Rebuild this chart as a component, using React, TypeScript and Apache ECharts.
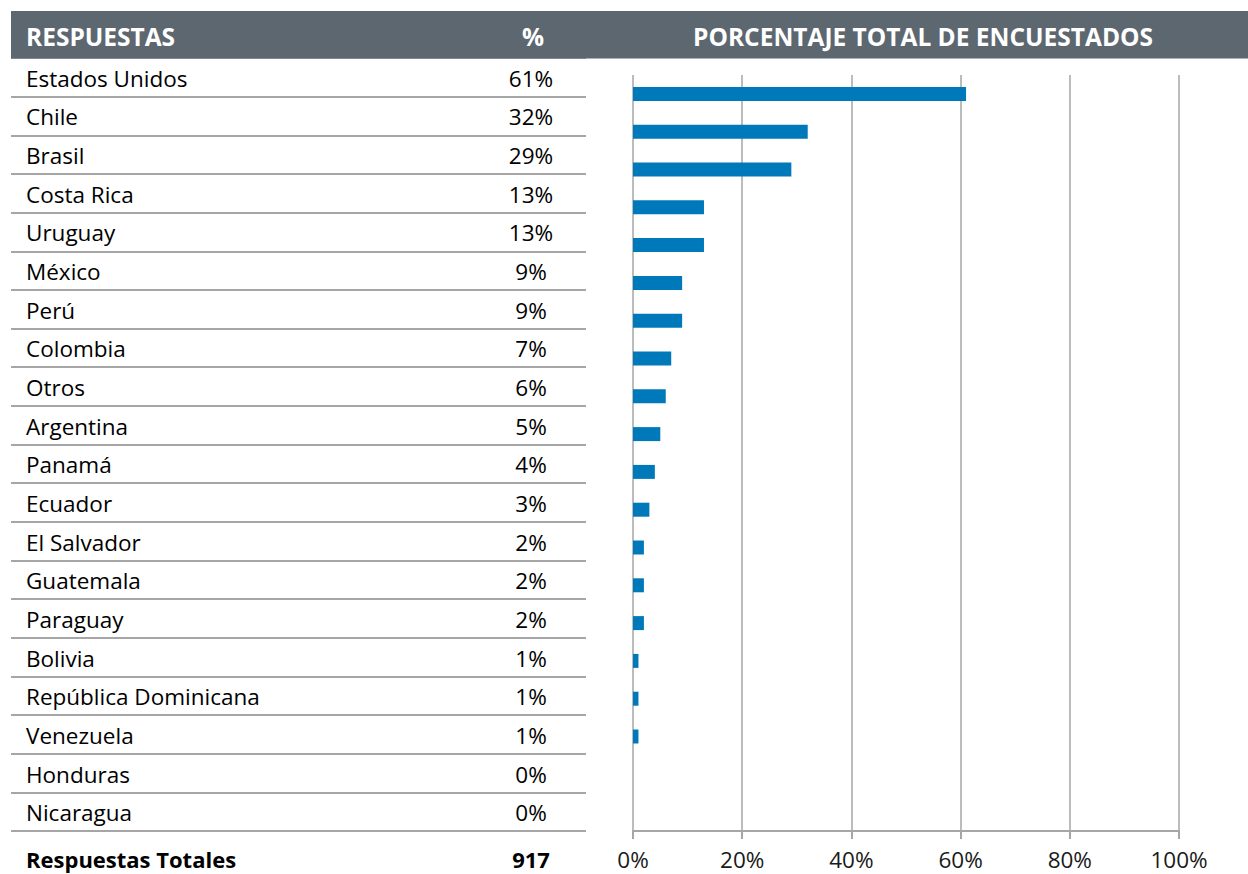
import React, { useEffect, useRef } from "react";
import * as echarts from "echarts";

const countries = [
  "Estados Unidos", "Chile", "Brasil", "Costa Rica", "Uruguay", "México", "Perú",
  "Colombia", "Otros", "Argentina", "Panamá", "Ecuador", "El Salvador", "Guatemala",
  "Paraguay", "Bolivia", "República Dominicana", "Venezuela", "Honduras", "Nicaragua",
];
const percents = [61, 32, 29, 13, 13, 9, 9, 7, 6, 5, 4, 3, 2, 2, 2, 1, 1, 1, 0, 0];
const headerLabels = ["RESPUESTAS", "%", "PORCENTAJE TOTAL DE ENCUESTADOS"];
const totalLabel = "Respuestas Totales";
const totalValue = "917";
const xTicks = [0, 20, 40, 60, 80, 100];

const FONT = "'Open Sans', 'Noto Sans', sans-serif";
const FS = 22.5;

export default function App() {
  const ref = useRef<HTMLDivElement>(null);
  useEffect(() => {
    if (!ref.current) return;
    const chart = echarts.init(ref.current, null, { renderer: "svg" });
    chart.setOption({
      animation: false,
      backgroundColor: "#ffffff",
      textStyle: { fontFamily: FONT },
      grid: [
        { left: 11, width: 575, top: 58, height: 773 },
        { left: 633, width: 546, top: 75, height: 756 },
      ],
      xAxis: [
        { gridIndex: 0, type: "value", min: 0, max: 1, show: false },
        {
          gridIndex: 1,
          type: "value",
          min: xTicks[0],
          max: xTicks[xTicks.length - 1],
          interval: 20,
          axisLine: { show: true, lineStyle: { color: "#a6a6a6", width: 2 } },
          axisTick: { show: true, length: 8, lineStyle: { color: "#a6a6a6", width: 2 } },
          splitLine: { show: true, lineStyle: { color: "#a6a6a6", width: 1.5 } },
          axisLabel: {
            formatter: "{value}%",
            fontSize: FS,
            lineHeight: 24,
            color: "#1a1a1a",
            margin: 16,
            fontFamily: FONT,
          },
        },
      ],
      yAxis: [
        {
          gridIndex: 0,
          type: "category",
          inverse: true,
          data: countries,
          axisLine: { show: false },
          axisTick: { show: false },
          splitLine: { show: true, lineStyle: { color: "#a6a6a6", width: 2 } },
          axisLabel: {
            inside: true,
            margin: 15,
            interval: 0,
            fontFamily: FONT,
            formatter: (v: string, i: number) => `{n|${v}}{p|${percents[i]}%}`,
            rich: {
              n: { width: 472, fontSize: FS, color: "#000", fontFamily: FONT, align: "left", padding: [2, 0, 0, 0] },
              p: { width: 66, fontSize: FS, color: "#000", fontFamily: FONT, align: "center", padding: [2, 0, 0, 0] },
            },
          },
        },
        {
          gridIndex: 1,
          type: "category",
          inverse: true,
          data: countries,
          axisLine: { show: false },
          axisTick: { show: false },
          axisLabel: { show: false },
        },
      ],
      series: [
        {
          type: "bar",
          xAxisIndex: 1,
          yAxisIndex: 1,
          data: percents,
          barWidth: 14,
          itemStyle: { color: "#0079bb" },
          silent: true,
        },
      ],
      graphic: [
        {
          type: "rect",
          shape: { x: 11, y: 11, width: 1237, height: 47.5 },
          style: { fill: "#5d6770" },
          z: 100,
        },
        {
          type: "text",
          x: 26,
          y: 36,
          z: 101,
          style: {
            text: headerLabels[0], fill: "#fff", font: `bold 24.5px ${FONT}`,
            textAlign: "left", textVerticalAlign: "middle",
          },
        },
        {
          type: "text",
          x: 533,
          y: 36,
          z: 101,
          style: {
            text: headerLabels[1], fill: "#fff", font: `bold 24.5px ${FONT}`,
            textAlign: "center", textVerticalAlign: "middle",
          },
        },
        {
          type: "text",
          x: 923,
          y: 36,
          z: 101,
          style: {
            text: headerLabels[2], fill: "#fff", font: `bold 24.5px ${FONT}`,
            textAlign: "center", textVerticalAlign: "middle",
          },
        },
        {
          type: "text",
          x: 26,
          y: 859,
          style: {
            text: totalLabel, fill: "#000", font: `bold 22px ${FONT}`,
            textAlign: "left", textVerticalAlign: "middle",
          },
        },
        {
          type: "text",
          x: 531,
          y: 859,
          style: {
            text: totalValue, fill: "#000", font: `bold 22px ${FONT}`,
            textAlign: "center", textVerticalAlign: "middle",
          },
        },
      ],
    });
    return () => chart.dispose();
  }, []);
  return (
    <div
      ref={ref}
      style={{ position: "absolute", left: 0, top: 0, width: 1248, height: 874 }}
    />
  );
}
